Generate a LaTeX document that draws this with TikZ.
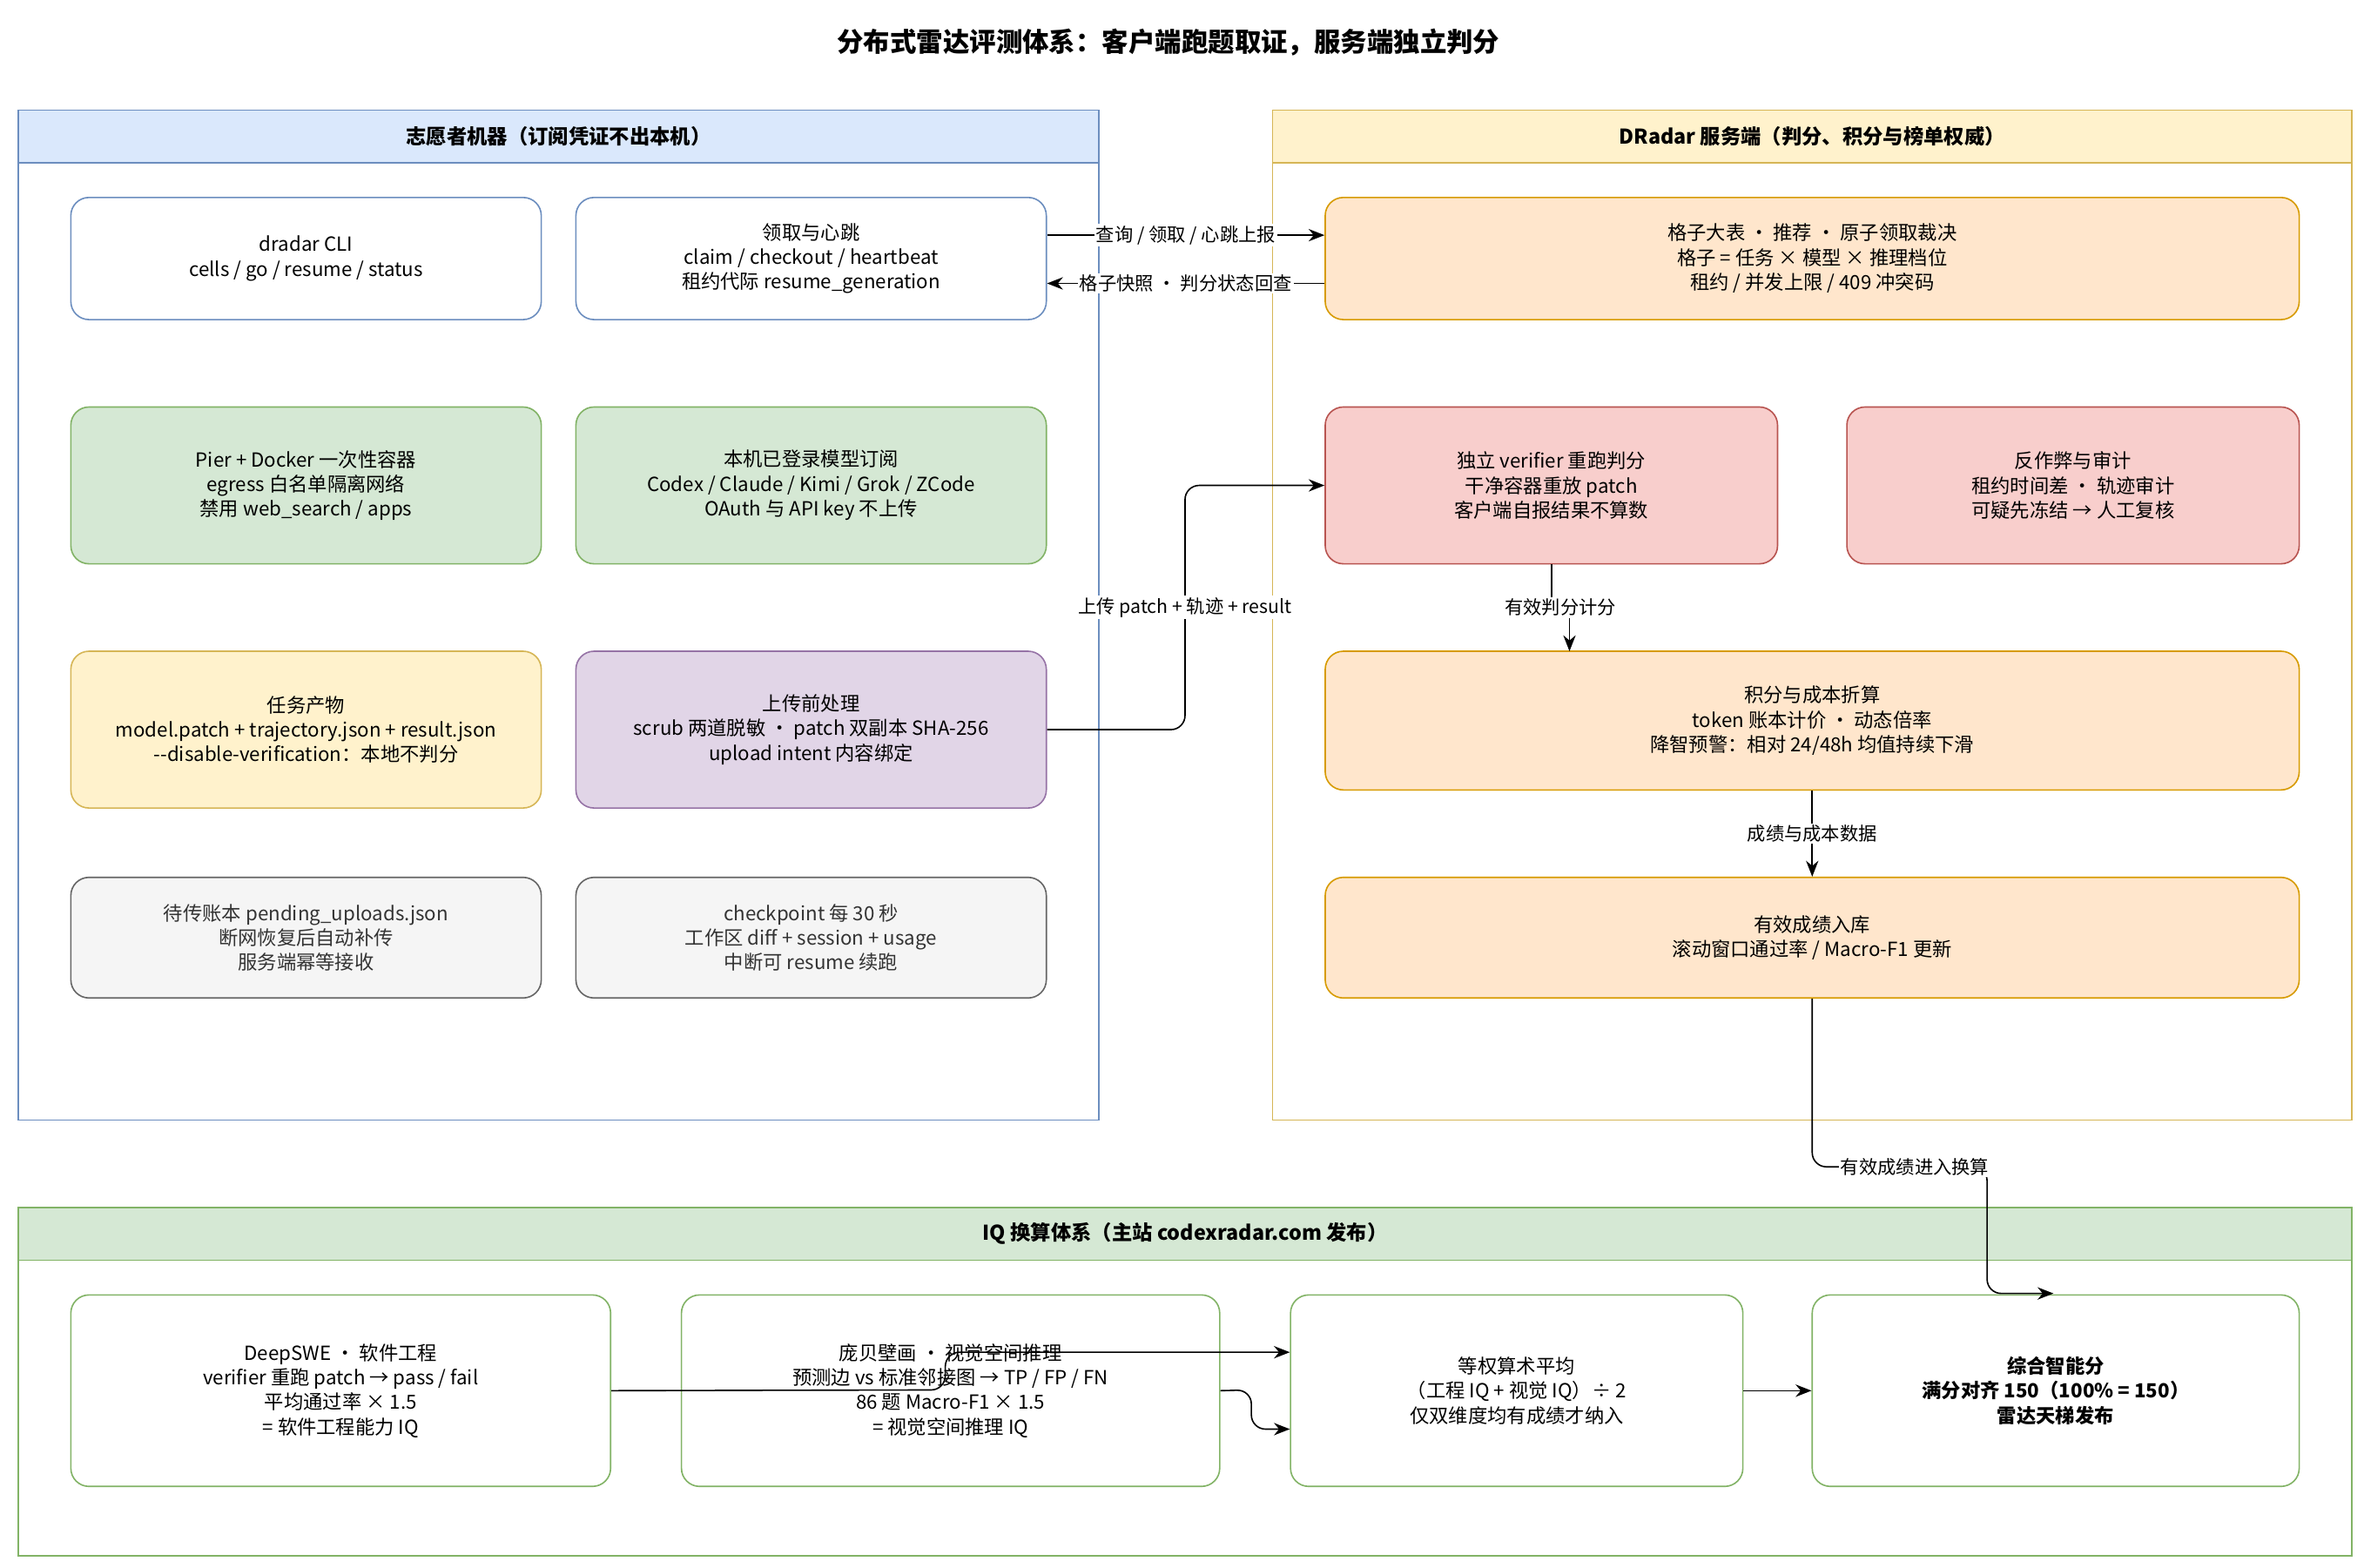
\documentclass[tikz,border=0pt]{standalone}
\usepackage{fontspec}
\setmainfont{Noto Sans CJK SC}
\usetikzlibrary{positioning, arrows.meta}

% Define colors
\definecolor{blueFill}{HTML}{DAE8FC}
\definecolor{blueLine}{HTML}{6C8EBF}
\definecolor{yellowFill}{HTML}{FFF2CC}
\definecolor{yellowLine}{HTML}{D6B656}
\definecolor{greenFill}{HTML}{D5E8D4}
\definecolor{greenLine}{HTML}{82B366}
\definecolor{orangeFill}{HTML}{FFE6CC}
\definecolor{orangeLine}{HTML}{D79B00}
\definecolor{redFill}{HTML}{F8CECC}
\definecolor{redLine}{HTML}{B85450}
\definecolor{purpleFill}{HTML}{E1D5E7}
\definecolor{purpleLine}{HTML}{9673A6}
\definecolor{grayFill}{HTML}{F5F5F5}
\definecolor{grayLine}{HTML}{666666}

\tikzset{
  box/.style={draw, rounded corners=0.36cm, align=center, line width=0.8pt,
    font=\fontsize{11}{14}\selectfont},
  link/.style={-{Stealth[length=9pt,width=7pt]}, line width=0.8pt},
  tag/.style={fill=white, inner sep=1pt, font=\fontsize{10.5}{12}\selectfont},
  head/.style={font=\bfseries\fontsize{11.5}{13}\selectfont}
}

\begin{document}
\begin{tikzpicture}[x=0.03cm, y=-0.03cm]
\useasboundingbox (0,0) rectangle (1568,1040);

% Title
\node[font=\bfseries\fontsize{15}{17}\selectfont] (title) at (775,28) {分布式雷达评测体系：客户端跑题取证，服务端独立判分};

% Containers
\draw[blueLine, line width=0.8pt] (12,73) rectangle (729,743);
\draw[blueLine, fill=blueFill, line width=0.8pt] (12,73) rectangle (729,108);
\node[head] (volunteer) at (370.5,90.5) {志愿者机器（订阅凭证不出本机）};

\draw[yellowLine, line width=0.8pt] (844,73) rectangle (1560,743);
\draw[yellowLine, fill=yellowFill, line width=0.8pt] (844,73) rectangle (1560,108);
\node[head] (server) at (1202,90.5) {DRadar 服务端（判分、积分与榜单权威）};

\draw[greenLine, line width=0.8pt] (12,801) rectangle (1560,1032);
\draw[greenLine, fill=greenFill, line width=0.8pt] (12,801) rectangle (1560,836);
\node[head] (iq) at (786,818.5) {IQ 换算体系（主站 codexradar.com 发布）};

% Volunteer nodes
\node[box, draw=blueLine, fill=white, minimum width=9.36cm, minimum height=2.43cm] (cli) at (203,171.5) {dradar CLI\\cells / go / resume / status};
\node[box, draw=blueLine, fill=white, minimum width=9.36cm, minimum height=2.43cm] (hb) at (538,171.5) {领取与心跳\\claim / checkout / heartbeat\\租约代际 resume\_generation};
\node[box, draw=greenLine, fill=greenFill, minimum width=9.36cm, minimum height=3.12cm] (pier) at (203,322) {Pier + Docker 一次性容器\\egress 白名单隔离网络\\禁用 web\_search / apps};
\node[box, draw=greenLine, fill=greenFill, minimum width=9.36cm, minimum height=3.12cm] (sub) at (538,322) {本机已登录模型订阅\\Codex / Claude / Kimi / Grok / ZCode\\OAuth 与 API key 不上传};
\node[box, draw=yellowLine, fill=yellowFill, minimum width=9.36cm, minimum height=3.12cm] (art) at (203,484) {任务产物\\model.patch + trajectory.json + result.json\\-{}-disable-verification：本地不判分};
\node[box, draw=purpleLine, fill=purpleFill, minimum width=9.36cm, minimum height=3.12cm] (pre) at (538,484) {上传前处理\\scrub 两道脱敏 · patch 双副本 SHA-256\\upload intent 内容绑定};
\node[box, draw=grayLine, fill=grayFill, text=black!80, minimum width=9.36cm, minimum height=2.4cm] (pend) at (203,622) {待传账本 pending\_uploads.json\\断网恢复后自动补传\\服务端幂等接收};
\node[box, draw=grayLine, fill=grayFill, text=black!80, minimum width=9.36cm, minimum height=2.4cm] (ckpt) at (538,622) {checkpoint 每 30 秒\\工作区 diff + session + usage\\中断可 resume 续跑};

% Server nodes
\node[box, draw=orangeLine, fill=orangeFill, minimum width=19.38cm, minimum height=2.43cm] (grid) at (1202,171.5) {格子大表 · 推荐 · 原子领取裁决\\格子 = 任务 × 模型 × 推理档位\\租约 / 并发上限 / 409 冲突码};
\node[box, draw=redLine, fill=redFill, minimum width=9cm, minimum height=3.12cm] (ver) at (1029,322) {独立 verifier 重跑判分\\干净容器重放 patch\\客户端自报结果不算数};
\node[box, draw=redLine, fill=redFill, minimum width=9cm, minimum height=3.12cm] (anti) at (1375,322) {反作弊与审计\\租约时间差 · 轨迹审计\\可疑先冻结 → 人工复核};
\node[box, draw=orangeLine, fill=orangeFill, minimum width=19.38cm, minimum height=2.76cm] (score) at (1202,478) {积分与成本折算\\token 账本计价 · 动态倍率\\降智预警：相对 24/48h 均值持续下滑};
\node[box, draw=orangeLine, fill=orangeFill, minimum width=19.38cm, minimum height=2.4cm] (store) at (1202,622) {有效成绩入库\\滚动窗口通过率 / Macro-F1 更新};

% IQ nodes
\node[box, draw=greenLine, fill=white, minimum width=10.74cm, minimum height=3.81cm] (swe) at (226,922.5) {DeepSWE · 软件工程\\verifier 重跑 patch → pass / fail\\平均通过率 × 1.5\\= 软件工程能力 IQ};
\node[box, draw=greenLine, fill=white, minimum width=10.71cm, minimum height=3.81cm] (vis) at (630.5,922.5) {庞贝壁画 · 视觉空间推理\\预测边 vs 标准邻接图 → TP / FP / FN\\86 题 Macro-F1 × 1.5\\= 视觉空间推理 IQ};
\node[box, draw=greenLine, fill=white, minimum width=9cm, minimum height=3.81cm] (avg) at (1006,922.5) {等权算术平均\\（工程 IQ + 视觉 IQ）÷ 2\\仅双维度均有成绩才纳入};
\node[box, draw=greenLine, fill=white, font=\bfseries\fontsize{11}{14}\selectfont, minimum width=9.69cm, minimum height=3.81cm] (final) at (1363.5,922.5) {综合智能分\\满分对齐 150（100\% = 150）\\雷达天梯发布};

% Connectors
\draw[link] (hb.east |- 0,156) -- node[tag] {查询 / 领取 / 心跳上报} (grid.west |- 0,156);
\draw[link] (grid.west |- 0,188) -- node[tag] {格子快照 · 判分状态回查} (hb.east |- 0,188);
\draw[link, rounded corners=8pt] (pre.east) -- (786,484) -- (786,322) -- (ver.west);
\node[tag] (uploadTag) at (786,403) {上传 patch + 轨迹 + result};
\draw[link] (ver.south) -- (1029,403) -- (1041,403) -- (1041,432);
\node[tag] (validTag) at (1035,403) {有效判分计分};
\draw[link] (score.south) -- node[tag] {成绩与成本数据} (store.north);
\draw[link, rounded corners=8pt] (store.south) -- (1202,774) -- (1318,774) -- (1318,858) -- (1362,858);
\node[tag] (iqTag) at (1270,774) {有效成绩进入换算};
\draw[link, rounded corners=8pt] (swe.east) -- (627,922) -- (627,897) -- (avg.west |- 0,897);
\draw[link, rounded corners=8pt] (vis.east) -- (830,922) -- (830,948) -- (avg.west |- 0,948);
\draw[link] (avg.east) -- (final.west);

\end{tikzpicture}
\end{document}
